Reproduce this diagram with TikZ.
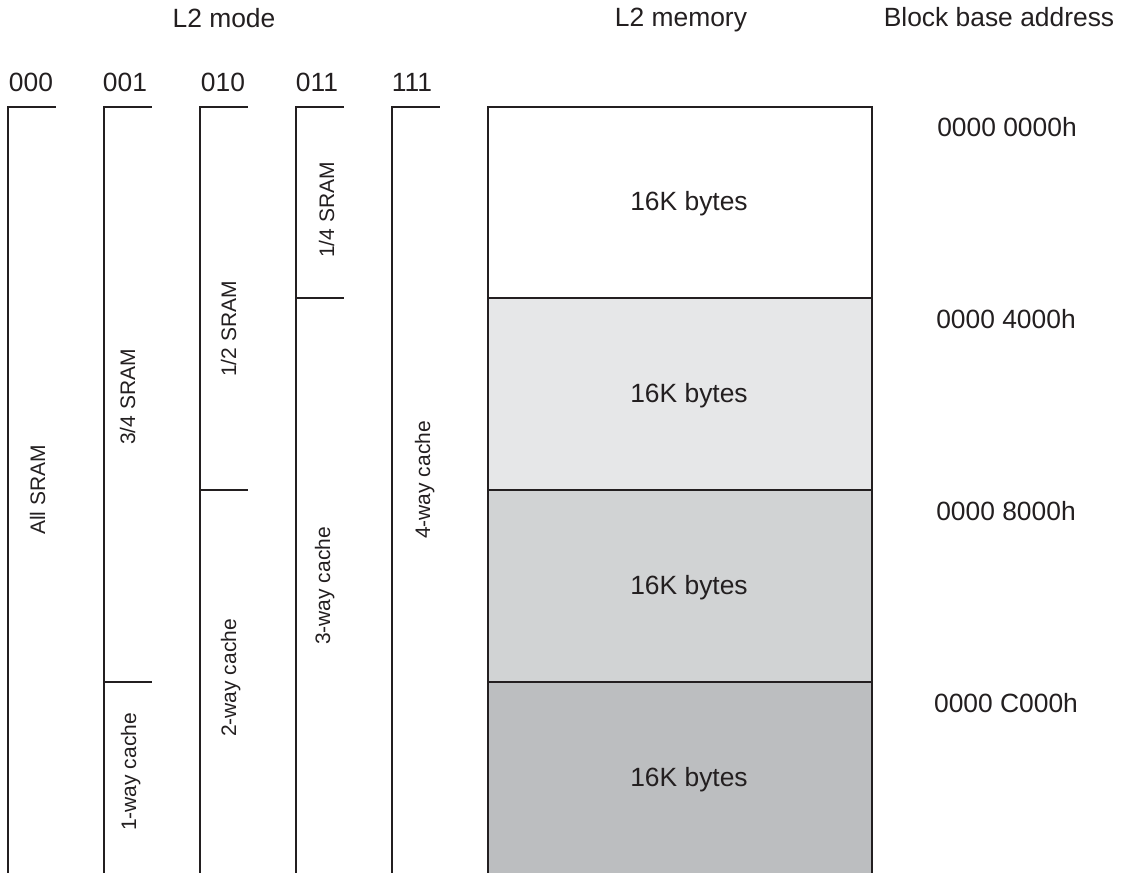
\documentclass[tikz,border=0pt]{standalone}
\usepackage{fontspec}
\setmainfont{Liberation Sans}
\definecolor{ink}{HTML}{231F20}
\definecolor{memA}{HTML}{FFFFFF}
\definecolor{memB}{HTML}{E6E7E8}
\definecolor{memC}{HTML}{D1D3D4}
\definecolor{memD}{HTML}{BCBEC0}
\begin{document}
\begin{tikzpicture}[x=0.75pt,y=-0.75pt,
  hdr/.style={font=\fontsize{19.8}{22}\selectfont, text=ink, inner sep=0pt, anchor=base},
  rot/.style={font=\fontsize{15.75}{18}\selectfont, text=ink, inner sep=0pt, anchor=base, rotate=90},
  wall/.style={draw=ink, line width=1.5pt}
]
\useasboundingbox (0,0) rectangle (1123,873);

% headers
\node[hdr] (hmode) at (224,28) {L2 mode};
\node[hdr] (hmem) at (681,27) {L2 memory};
\node[hdr] (haddr) at (999,27) {Block base address};

% mode codes
\node[hdr] (m000) at (31,92) {000};
\node[hdr] (m001) at (125,92) {001};
\node[hdr] (m010) at (223,92) {010};
\node[hdr] (m011) at (317,92) {011};
\node[hdr] (m111) at (412,92) {111};

% mode columns
\foreach \xl in {8,104,200,296,392}{
  \draw[wall] (\xl,880) -- (\xl,107) -- (\xl+48,107);
}
\draw[wall] (104,682) -- (152,682);
\draw[wall] (200,490) -- (248,490);
\draw[wall] (296,298) -- (344,298);

% rotated labels
\node[rot] (lall) at (45,490) {All SRAM};
\node[rot] (l34) at (135,397) {3/4 SRAM};
\node[rot] (l1w) at (136,772) {1-way cache};
\node[rot] (l12) at (236,329) {1/2 SRAM};
\node[rot] (l2w) at (236,678) {2-way cache};
\node[rot] (l14) at (334,210) {1/4 SRAM};
\node[rot] (l3w) at (330,586) {3-way cache};
\node[rot] (l4w) at (430,480) {4-way cache};

% memory blocks
\fill[memA] (488,107) rectangle (872,298);
\fill[memB] (488,298) rectangle (872,490);
\fill[memC] (488,490) rectangle (872,682);
\fill[memD] (488,682) rectangle (872,880);
\draw[wall] (488,880) -- (488,107) -- (872,107) -- (872,880);
\draw[wall] (488,298) -- (872,298);
\draw[wall] (488,490) -- (872,490);
\draw[wall] (488,682) -- (872,682);

\node[hdr] (b1) at (689,211) {16K bytes};
\node[hdr] (b2) at (689,402) {16K bytes};
\node[hdr] (b3) at (689,594) {16K bytes};
\node[hdr] (b4) at (689,786) {16K bytes};

% addresses
\node[hdr] (a0) at (1007,137) {0000 0000h};
\node[hdr] (a1) at (1006,328) {0000 4000h};
\node[hdr] (a2) at (1006,520) {0000 8000h};
\node[hdr] (a3) at (1006,712) {0000 C000h};
\end{tikzpicture}
\end{document}
